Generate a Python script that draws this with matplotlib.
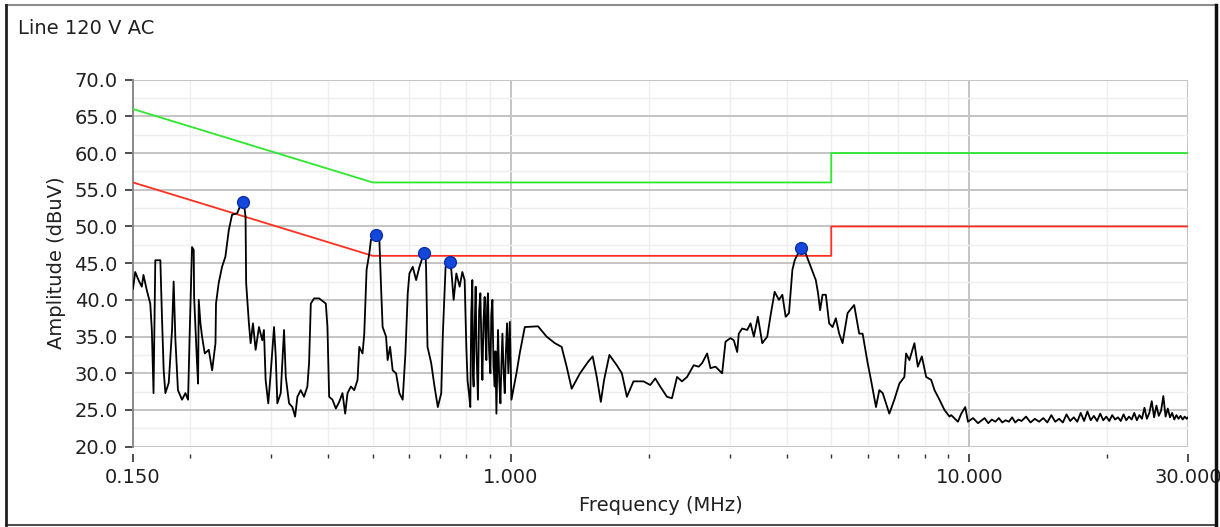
import numpy as np
import matplotlib.pyplot as plt
from matplotlib.lines import Line2D
from matplotlib.ticker import FixedLocator, FixedFormatter, MultipleLocator

plt.rcParams['font.family'] = 'DejaVu Sans'
plt.rcParams['font.size'] = 14

# measured trace (MHz, dBuV)
freq_mhz = [
    0.150, 0.1517, 0.1542, 0.1568, 0.1581, 0.1608, 0.1636, 0.1649, 0.1663, 0.1678,
    0.1721, 0.1735, 0.1750, 0.1765, 0.1795, 0.1825, 0.1840, 0.1856, 0.1880, 0.1919,
    0.1952, 0.1978, 0.1995, 0.2018, 0.2035, 0.2039, 0.2069, 0.2080, 0.2087, 0.2105,
    0.2122, 0.2151, 0.2195, 0.2232, 0.2270, 0.2276, 0.2307, 0.2346, 0.2386, 0.2427,
    0.2467, 0.2531, 0.2574, 0.2618, 0.2640, 0.2648, 0.2685, 0.2708, 0.2740, 0.2777,
    0.2824, 0.2871, 0.2895, 0.2920, 0.2959, 0.2995, 0.3046, 0.3072, 0.3097, 0.3150,
    0.3203, 0.3231, 0.3285, 0.3340, 0.3386, 0.3425, 0.3483, 0.3541, 0.3601, 0.3632,
    0.3664, 0.3725, 0.3821, 0.3951, 0.3983, 0.4017, 0.4085, 0.4155, 0.4225, 0.4295,
    0.4354, 0.4406, 0.4481, 0.4556, 0.4633, 0.4673, 0.4751, 0.4792, 0.4848, 0.4914,
    0.4956, 0.5039, 0.5168, 0.5213, 0.5255, 0.5346, 0.5389, 0.5455, 0.5527, 0.5622,
    0.5716, 0.5812, 0.5892, 0.5961, 0.6012, 0.6112, 0.6218, 0.6322, 0.6428, 0.6516,
    0.6536, 0.6583, 0.6706, 0.6819, 0.6933, 0.7054, 0.7111, 0.7209, 0.7293, 0.7419,
    0.7506, 0.7609, 0.7736, 0.7842, 0.7933,
    0.8000, 0.8050, 0.8106, 0.8162, 0.8200, 0.8245, 0.8270, 0.8299, 0.8340, 0.8384,
    0.8420, 0.8482, 0.8530, 0.8585, 0.8630, 0.8672, 0.8720, 0.8772, 0.8810, 0.8847,
    0.8880, 0.8919, 0.8970, 0.9028, 0.9070, 0.9120, 0.9170, 0.9226, 0.9260, 0.9305,
    0.9340, 0.9380, 0.9440, 0.9495, 0.9540, 0.9590, 0.9650, 0.9703, 0.9760, 0.9815,
    0.9880, 0.9950, 1.0035,
    1.029, 1.046,
    1.073, 1.147, 1.197, 1.248, 1.291, 1.324, 1.358, 1.416, 1.476, 1.509,
    1.540, 1.572, 1.598, 1.641, 1.703, 1.747, 1.792, 1.852, 1.948, 2.015,
    2.066, 2.118, 2.191, 2.247, 2.305, 2.363, 2.424, 2.506, 2.570, 2.615,
    2.681, 2.726, 2.796, 2.891, 2.940, 3.015, 3.065, 3.118, 3.143, 3.197,
    3.279, 3.334, 3.390, 3.459, 3.536, 3.626, 3.687, 3.763, 3.845, 3.911,
    3.977, 4.044, 4.114, 4.162, 4.253, 4.290, 4.399, 4.511, 4.627, 4.680,
    4.728, 4.786, 4.866, 4.948, 5.033, 5.117, 5.203, 5.292, 5.428, 5.610,
    5.754, 5.853, 6.003, 6.104, 6.260, 6.365, 6.475, 6.693, 6.864, 7.040,
    7.219, 7.281, 7.404, 7.592, 7.723, 7.881, 8.054, 8.259, 8.399, 8.610,
    8.829, 9.055, 9.132, 9.446, 9.605, 9.800, 9.935, 10.19, 10.45,
    10.6, 10.8, 11.0, 11.2, 11.4, 11.6, 11.8, 12.0, 12.2, 12.4,
    12.6, 12.8, 13.0, 13.3, 13.6, 13.9, 14.2, 14.5, 14.8, 15.1,
    15.4, 15.7, 16.0, 16.3, 16.6, 16.9, 17.2, 17.5, 17.8, 18.1,
    18.4, 18.7, 19.0, 19.3, 19.6, 19.9, 20.2, 20.5, 20.8, 21.1,
    21.4, 21.7, 22.0, 22.3, 22.6, 22.9, 23.2, 23.5, 23.8, 24.1,
    24.4, 24.7, 25.0, 25.3, 25.6, 25.9, 26.2, 26.5, 26.8, 27.1,
    27.4, 27.7, 28.0, 28.3, 28.6, 28.9, 29.2, 29.5, 29.8, 30.0,
]
level_dbuv = [
    41.5, 43.8, 42.7, 41.8, 43.4, 41.3, 39.5, 35.9, 27.3, 45.4,
    45.4, 37.7, 30.4, 27.3, 28.7, 35.9, 42.5, 34.6, 27.7, 26.4,
    27.3, 26.4, 35.9, 47.2, 46.8, 40.4, 31.4, 28.6, 40.0, 36.8,
    35.0, 32.7, 33.2, 30.4, 34.1, 39.5, 42.3, 44.5, 45.9, 49.5,
    51.6, 51.8, 52.9, 53.2, 51.3, 42.3, 36.8, 34.1, 36.8, 33.2,
    36.3, 34.5, 35.9, 29.1, 25.9, 30.0, 36.3, 32.3, 25.9, 27.3,
    35.9, 29.5, 25.9, 25.4, 24.1, 26.8, 27.7, 26.8, 28.2, 31.4,
    39.5, 40.2, 40.2, 39.5, 36.3, 26.8, 26.4, 25.2, 26.1, 27.3,
    24.5, 27.3, 28.2, 27.7, 29.1, 33.6, 32.7, 35.4, 44.1, 46.3,
    48.2, 48.6, 48.4, 41.8, 36.3, 35.0, 31.8, 33.6, 30.4, 30.0,
    27.3, 26.4, 32.7, 40.9, 43.6, 44.5, 42.7, 44.5, 45.9, 46.3,
    44.5, 33.6, 31.4, 28.2, 25.4, 27.3, 35.4, 44.5, 45.2, 44.1,
    40.0, 43.6, 41.8, 43.8, 42.7,
    33.6, 29.0, 27.3, 25.4, 38.0, 42.7, 30.0, 28.2, 36.0, 41.8,
    33.0, 26.4, 38.5, 40.9, 34.0, 29.1, 37.0, 40.4, 35.0, 31.8,
    39.0, 40.9, 33.0, 30.0, 38.0, 40.0, 31.0, 28.2, 33.0, 24.5,
    30.0, 35.9, 29.0, 25.9, 31.0, 35.4, 30.0, 27.3, 33.0, 36.8,
    30.0, 37.0, 26.4,
    30.0, 32.7,
    36.3, 36.4, 35.0, 34.1, 33.6, 30.9, 27.9, 30.0, 31.6, 32.3,
    29.5, 26.1, 29.1, 32.5, 31.1, 30.0, 26.8, 28.9, 28.9, 28.4,
    29.3, 28.2, 26.8, 26.6, 29.5, 28.9, 29.5, 31.1, 30.9, 31.4,
    32.7, 30.7, 30.9, 30.0, 34.3, 34.8, 34.5, 32.9, 35.4, 36.1,
    35.9, 36.8, 35.0, 37.7, 34.1, 35.0, 37.9, 41.1, 40.0, 40.7,
    37.7, 38.2, 44.1, 45.4, 46.6, 47.0, 46.3, 44.5, 42.7, 40.9,
    38.6, 40.7, 40.7, 36.8, 36.3, 37.5, 35.4, 34.1, 38.2, 39.3,
    35.4, 35.4, 31.4, 29.1, 25.4, 27.7, 27.3, 24.5, 26.4, 28.6,
    29.5, 32.7, 31.8, 34.1, 30.9, 32.3, 29.5, 29.1, 27.7, 26.4,
    25.0, 24.1, 24.3, 23.4, 24.5, 25.4, 23.4, 23.9, 23.2,
    23.5, 23.9, 23.2, 23.7, 23.4, 23.9, 23.3, 23.6, 23.4, 24.0,
    23.3, 23.7, 23.5, 24.1, 23.3, 23.8, 23.4, 23.9, 23.3, 24.3,
    23.4, 23.8, 23.3, 24.4, 23.5, 24.0, 23.4, 24.6, 23.5, 24.8,
    23.6, 24.2, 23.5, 24.5, 23.6, 24.1, 23.5, 24.3, 23.7, 24.0,
    23.5, 24.4, 23.6, 24.1, 23.7, 24.6, 23.6, 24.3, 23.8, 25.3,
    23.8, 24.6, 26.2, 24.0, 25.6, 24.2, 24.9, 26.9, 24.1, 25.2,
    24.0, 24.6, 23.7, 24.3, 23.8, 24.2, 23.7, 24.1, 23.8, 24.0,
]

# limit lines
qp_freq = [0.15, 0.5, 5.0, 5.0, 30.0]
qp_level = [66.0, 56.0, 56.0, 60.0, 60.0]
avg_freq = [0.15, 0.5, 5.0, 5.0, 30.0]
avg_level = [56.0, 46.0, 46.0, 50.0, 50.0]

# peak markers
peak_freq = [0.2604, 0.508, 0.648, 0.7355, 4.29]
peak_level = [53.3, 48.8, 46.4, 45.2, 47.1]

xtick_vals = [0.15, 1.0, 10.0, 30.0]
xtick_labels = ['0.150', '1.000', '10.000', '30.000']
xminor_vals = [0.2, 0.3, 0.4, 0.5, 0.6, 0.7, 0.8, 0.9,
               2, 3, 4, 5, 6, 7, 8, 9, 20]

fig = plt.figure(figsize=(12.2, 5.27), dpi=100)
ax = fig.add_axes([0.109, 0.1524, 0.8648, 0.6964])

ax.plot(qp_freq, qp_level, color='#2ee82e', lw=1.3, zorder=3)
ax.plot(avg_freq, avg_level, color='#ff3020', lw=1.3, zorder=3)
ax.plot(freq_mhz, level_dbuv, color='black', lw=1.3, zorder=4)
ax.plot(peak_freq, peak_level, 'o', color='#1448dc', markeredgecolor='#0a2fa8',
        markersize=8.5, zorder=5)

ax.set_xscale('log')
ax.set_xlim(0.15, 30)
ax.set_ylim(20, 70)

ax.xaxis.set_major_locator(FixedLocator(xtick_vals))
ax.xaxis.set_major_formatter(FixedFormatter(xtick_labels))
ax.xaxis.set_minor_locator(FixedLocator(xminor_vals))
ax.xaxis.set_minor_formatter(FixedFormatter([''] * len(xminor_vals)))
ax.yaxis.set_major_locator(MultipleLocator(5))
ax.yaxis.set_minor_locator(MultipleLocator(2.5))
ax.yaxis.set_major_formatter(plt.FuncFormatter(lambda v, p: '%.1f' % v))

ax.grid(True, which='major', color='#c4c4c4', lw=1.4)
ax.grid(True, which='minor', color='#eeeeee', lw=1.0)
ax.set_axisbelow(True)

for s in ['top', 'right']:
    ax.spines[s].set_visible(False)
ax.spines['left'].set_color('#8a8a8a')
ax.spines['left'].set_linewidth(1.4)
ax.spines['bottom'].set_position(('outward', 5))
ax.spines['bottom'].set_visible(False)

ax.tick_params(axis='y', which='major', direction='out', length=6, width=1.2,
               color='#303030', pad=5, labelsize=14, labelcolor='#202020')
ax.tick_params(axis='y', which='minor', length=0)
ax.tick_params(axis='x', which='major', direction='out', length=5.5, width=1.2,
               color='#303030', pad=5, labelsize=14, labelcolor='#202020')
ax.tick_params(axis='x', which='minor', direction='out', length=3, width=1.0,
               color='#303030')

ax.set_xlabel('Frequency (MHz)', fontsize=14, color='#202020', labelpad=6)
ax.set_ylabel('Amplitude (dBuV)', fontsize=14, color='#202020', labelpad=6)

fig.text(18 / 1220, 1 - 28 / 527, 'Line 120 V AC', fontsize=14,
         color='#202020', va='center', ha='left')

# panel border
bl, br, bb, bt = 6 / 1220, 1216 / 1220, 2 / 527, 522 / 527
fig.add_artist(Line2D([bl, br], [bt, bt], color='#8c8c8c', lw=1.5, zorder=10))
fig.add_artist(Line2D([bl, br], [bb, bb], color='#505050', lw=1.5, zorder=10))
fig.add_artist(Line2D([bl, bl], [bb, bt], color='#202020', lw=2.0, zorder=10))
fig.add_artist(Line2D([br, br], [bb, bt], color='#101010', lw=2.5, zorder=10))

fig.savefig('out.png', dpi=100)
